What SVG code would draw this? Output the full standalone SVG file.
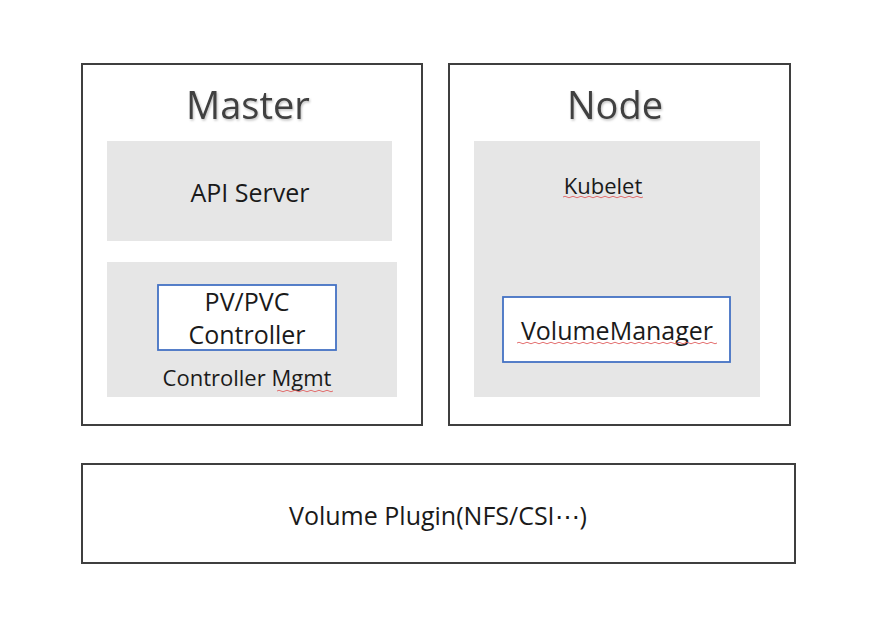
<svg xmlns="http://www.w3.org/2000/svg" width="877" height="622" viewBox="0 0 877 622">
<defs>
<style>
.outer{fill:#fff;stroke:#3f3f3f;stroke-width:2}
.gray{fill:#e6e6e6}
.blue{fill:#fff;stroke:#4472c4;stroke-width:1.8}
text{font-family:"Open Sans","Noto Sans",sans-serif;fill:#1a1a1a;text-anchor:middle}
.title{font-size:38px;fill:#404040;filter:url(#sh)}
.lbl{font-size:25px}
.sm{font-size:22px}
.sq{fill:none;stroke:#e06060;stroke-width:0.9}
</style>
<filter id="sh" x="-10%" y="-10%" width="130%" height="140%">
<feDropShadow dx="1" dy="1.5" stdDeviation="1" flood-color="#000" flood-opacity="0.25"/>
</filter>
</defs>
<g id="master">
<rect class="outer" x="82" y="64" width="340" height="361"/>
<text class="title" x="248" y="119">Master</text>
</g>
<g id="api-server">
<rect class="gray" x="107" y="141" width="285" height="100"/>
<text class="lbl" x="250" y="202">API Server</text>
</g>
<g id="controller-mgmt">
<rect class="gray" x="107" y="262" width="290" height="135"/>
<text class="sm" x="247" y="386">Controller Mgmt</text>
<path class="sq" d="M277 391 q2 -1.5 4 0 t4 0 t4 0 t4 0 t4 0 t4 0 t4 0 t4 0 t4 0 t4 0 t4 0 t4 0 t4 0 t4 0"/>
</g>
<g id="pv-pvc-controller">
<rect class="blue" x="158" y="285" width="178" height="65"/>
<text class="lbl" x="247" y="311">PV/PVC</text>
<text class="lbl" x="247" y="344">Controller</text>
</g>
<g id="node">
<rect class="outer" x="449" y="64" width="341" height="361"/>
<text class="title" x="615" y="119">Node</text>
</g>
<g id="kubelet">
<rect class="gray" x="474" y="141" width="286" height="256"/>
<text class="sm" x="603" y="194">Kubelet</text>
<path class="sq" d="M563 197 q2 -1.5 4 0 t4 0 t4 0 t4 0 t4 0 t4 0 t4 0 t4 0 t4 0 t4 0 t4 0 t4 0 t4 0 t4 0 t4 0 t4 0 t4 0 t4 0 t4 0 t4 0"/>
</g>
<g id="volume-manager">
<rect class="blue" x="503" y="297" width="227" height="65"/>
<text class="lbl" x="617" y="340">VolumeManager</text>
<path class="sq" d="M517 343 q2 -1.5 4 0 t4 0 t4 0 t4 0 t4 0 t4 0 t4 0 t4 0 t4 0 t4 0 t4 0 t4 0 t4 0 t4 0 t4 0 t4 0 t4 0 t4 0 t4 0 t4 0 t4 0 t4 0 t4 0 t4 0 t4 0 t4 0 t4 0 t4 0 t4 0 t4 0 t4 0 t4 0 t4 0 t4 0 t4 0 t4 0 t4 0 t4 0 t4 0 t4 0 t4 0 t4 0 t4 0 t4 0 t4 0 t4 0 t4 0 t4 0 t4 0 t4 0"/>
</g>
<g id="volume-plugin">
<rect class="outer" x="82" y="464" width="713" height="99"/>
<text class="lbl" x="438" y="525">Volume Plugin(NFS/CSI⋯)</text>
</g>
<g id="connectors"></g>
</svg>
